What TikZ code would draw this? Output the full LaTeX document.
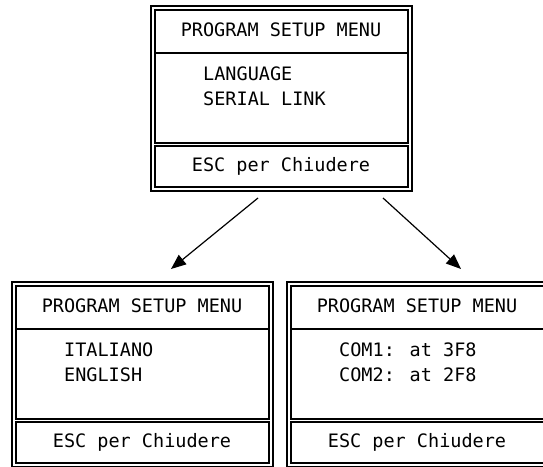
\documentclass[tikz,border=0pt]{standalone}
\usepackage{fontspec}
\newfontfamily\menufont{DejaVu Sans Mono}
\usetikzlibrary{arrows.meta,positioning,calc}

\begin{document}
\begin{tikzpicture}[x=1pt,y=-1pt,
  menu line/.style={line width=1.1pt},
  menu text/.style={inner sep=0pt,text height=13.5pt,text depth=0pt,font=\menufont\fontsize{18.5}{20}\selectfont}]
\useasboundingbox (0,0) rectangle (543,466);
% the three setup screens
\foreach \nm/\bx/\by/\la/\lb in {top/151/6/LANGUAGE/SERIAL LINK,
    lang/12/282/ITALIANO/ENGLISH,
    ser/287/282/{COM1: at 3F8}/{COM2: at 2F8}}{
  \begin{scope}[shift={(\bx,\by)}]
  \draw[menu line] (0,0) rectangle (261,185);
  \draw[menu line] (4,4) rectangle (257,137);
  \draw[menu line] (4,47) -- (257,47);
  \draw[menu line] (4,140) rectangle (257,181);
  \node[menu text] (\nm-head) at (130,24) {PROGRAM SETUP MENU};
  \node[menu text,anchor=west] (\nm-a) at (52,68) {\la};
  \node[menu text,anchor=west] (\nm-b) at (52,93) {\lb};
  \node[menu text] (\nm-esc) at (130,159) {ESC per Chiudere};
  \end{scope}
}
% arrows down to the sub menus
\coordinate (top-l) at (258,198);
\coordinate (top-r) at (383,198);
\coordinate (lang-in) at (171,269);
\coordinate (ser-in) at (461,269);
\draw[line width=1.2pt,-{Triangle[length=15pt,width=12pt]}] (top-l) -- (lang-in);
\draw[line width=1.2pt,-{Triangle[length=15pt,width=12pt]}] (top-r) -- (ser-in);
\end{tikzpicture}
\end{document}
